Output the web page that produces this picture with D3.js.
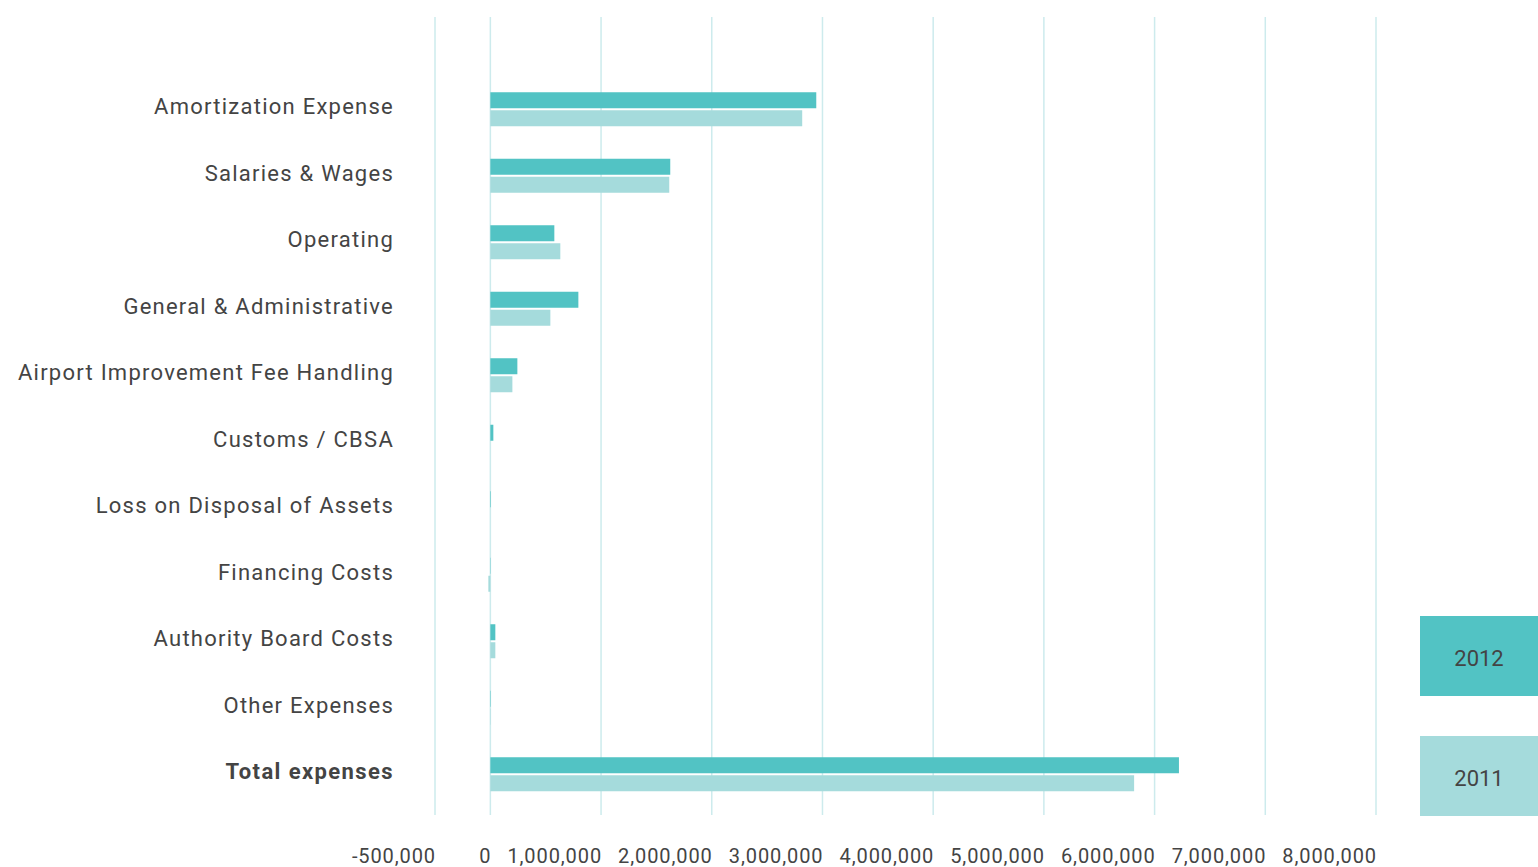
<!DOCTYPE html>
<html>
<head>
<meta charset="utf-8">
<script src="https://cdn.jsdelivr.net/npm/d3@7"></script>
<style>
  body { margin: 0; background: #fff; }
  svg text { font-family: Roboto, "DejaVu Sans", sans-serif; fill: #444; }
</style>
</head>
<body>
<div id="main"></div>
<script>
const categories = ["Amortization Expense", "Salaries & Wages", "Operating", "General & Administrative",
  "Airport Improvement Fee Handling", "Customs / CBSA", "Loss on Disposal of Assets", "Financing Costs",
  "Authority Board Costs", "Other Expenses", "Total expenses"]
const values2012 = [2944000, 1625000, 578000, 795000, 244000, 27000, 5000, 3000, 45000, 4000, 6220000]
const values2011 = [2817000, 1616000, 632000, 542000, 199000, 0, 0, -18000, 45000, 3000, 5815000]
const tickValues = [-500000, 0, 1000000, 2000000, 3000000, 4000000, 5000000, 6000000, 7000000, 8000000]
const years = ["2012", "2011"]

let width = 1538,
    height = 867

const colors = { "2012": "#52c3c4", "2011": "#a5dbdc" }

var svg = d3.select("div#main")
    .append("svg")
    .attr("width", width)
    .attr("height", height)

let x = d3.scaleLinear().domain([-500000, 8000000]).range([435, 1376])
let y = d3.scaleBand().domain(categories).range([76, 807.5])

// gridlines
svg.selectAll(".grid")
    .data(tickValues)
    .join("line")
    .attr("x1", d => x(d)).attr("x2", d => x(d))
    .attr("y1", 17).attr("y2", 815)
    .attr("stroke", "#cdebed")
    .attr("stroke-width", 1.5)

// tick labels, right-aligned to their gridline
const fmt = d3.format(",")
svg.selectAll(".tick")
    .data(tickValues)
    .join("text")
    .attr("x", d => x(d) + 1)
    .attr("y", 863)
    .attr("text-anchor", "end")
    .attr("font-size", 20)
    .attr("letter-spacing", 0.9)
    .text(d => fmt(d).replace("\u2212", "-"))

// category labels
svg.selectAll(".cat")
    .data(categories)
    .join("text")
    .attr("x", 394)
    .attr("y", d => y(d) + y.bandwidth() / 2 + 5)
    .attr("text-anchor", "end")
    .attr("font-size", 22)
    .attr("letter-spacing", d => d == "Total expenses" ? 1.4 : 1.25)
    .attr("font-weight", d => d == "Total expenses" ? "bold" : "normal")
    .text(d => d)

const barH = 16
function drawBars(vals, year, offset) {
    svg.selectAll(".bar" + year)
        .data(vals)
        .join("rect")
        .attr("x", d => x(Math.min(0, d)))
        .attr("width", d => Math.abs(x(d) - x(0)))
        .attr("y", (d, i) => y(categories[i]) + y.bandwidth() / 2 - 17 + offset)
        .attr("height", barH)
        .attr("fill", colors[year])
}
drawBars(values2012, "2012", 0)
drawBars(values2011, "2011", 18)

// legend
let legend = svg.selectAll(".legend")
    .data(years)
    .join("g")
    .attr("transform", (d, i) => "translate(1420," + (616 + i * 120) + ")")
legend.append("rect")
    .attr("width", 118).attr("height", 80)
    .attr("fill", d => colors[d])
legend.append("text")
    .attr("x", 59).attr("y", 50)
    .attr("text-anchor", "middle")
    .attr("font-size", 22)
    .text(d => d)
</script>
</body>
</html>
